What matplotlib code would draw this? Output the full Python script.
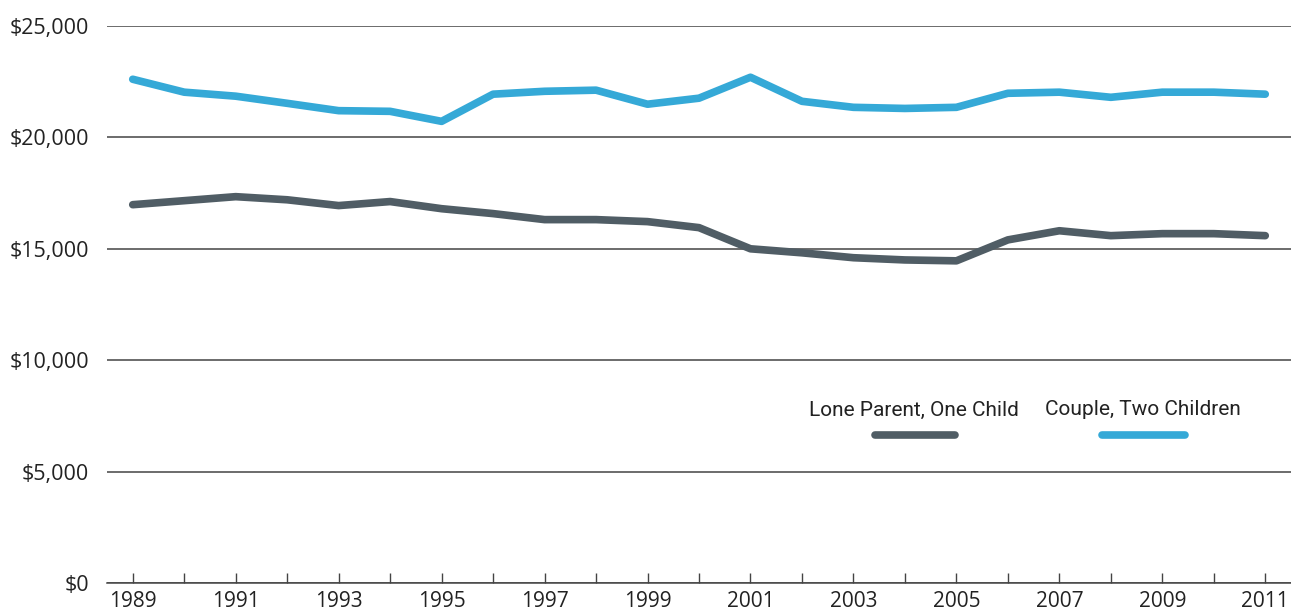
import matplotlib
matplotlib.use("Agg")
import matplotlib.pyplot as plt
from matplotlib.ticker import FuncFormatter, MultipleLocator

years = list(range(1989, 2012))
lone_parent = [16980, 17160, 17340, 17200, 16940, 17120, 16800, 16580, 16310, 16310,
               16220, 15950, 15000, 14820, 14600, 14500, 14460, 15400, 15810, 15590,
               15680, 15680, 15590]
couple = [22610, 22030, 21850, 21530, 21200, 21170, 20720, 21940, 22070, 22120,
          21490, 21760, 22700, 21620, 21350, 21300, 21350, 21980, 22030, 21800,
          22030, 22030, 21940]
series_labels = ["Lone Parent, One Child", "Couple, Two Children"]
series_colors = ["#505d65", "#35a9d7"]
yticks = [0, 5000, 10000, 15000, 20000, 25000]
xtick_labels = [str(y) for y in range(1989, 2012, 2)]

plt.rcParams['font.family'] = ['Open Sans', 'DejaVu Sans']
fig = plt.figure(figsize=(12.91, 6.13), dpi=100)
ax = fig.add_axes([107/1291, 30/613, 1184/1291, 557/613])

for vals, col in zip([lone_parent, couple], series_colors):
    ax.plot(years, vals, color=col, lw=5.5, solid_capstyle='round', solid_joinstyle='round', zorder=3)

ax.set_xlim(1988.5, 2011.5)
ax.set_ylim(0, 25000)
ax.set_yticks(yticks)
ax.yaxis.set_major_formatter(FuncFormatter(lambda v, p: f"${int(v):,}"))
ax.set_xticks(range(1989, 2012, 2))
ax.set_xticklabels(xtick_labels)
ax.xaxis.set_minor_locator(MultipleLocator(1))
ax.grid(axis='y', color='#444444', lw=1.1, zorder=1)
for s in ['top', 'right', 'left']:
    ax.spines[s].set_visible(False)
ax.spines['bottom'].set_color('#444444')
ax.spines['bottom'].set_linewidth(1.1)
ax.tick_params(axis='y', length=0, pad=13, labelsize=15.5, labelcolor='#222222')
ax.tick_params(axis='x', which='both', direction='in', length=7, width=1, color='#444444',
               pad=6, labelsize=15, labelcolor='#222222')

# legend
leg_text_x = [0.6816, 0.875]
leg_line_x = [(0.6486, 0.7162), (0.8404, 0.9105)]
for lbl, col, tx, (x0, x1) in zip(series_labels, series_colors, leg_text_x, leg_line_x):
    ax.text(tx, 0.3106, lbl, transform=ax.transAxes, ha='center', va='center',
            fontsize=15, color='#222222', family=['Roboto', 'DejaVu Sans'])
    ax.plot([x0, x1], [0.2657, 0.2657], transform=ax.transAxes, color=col, lw=5.5,
            solid_capstyle='round', clip_on=False)

fig.savefig("out.png", dpi=100)
